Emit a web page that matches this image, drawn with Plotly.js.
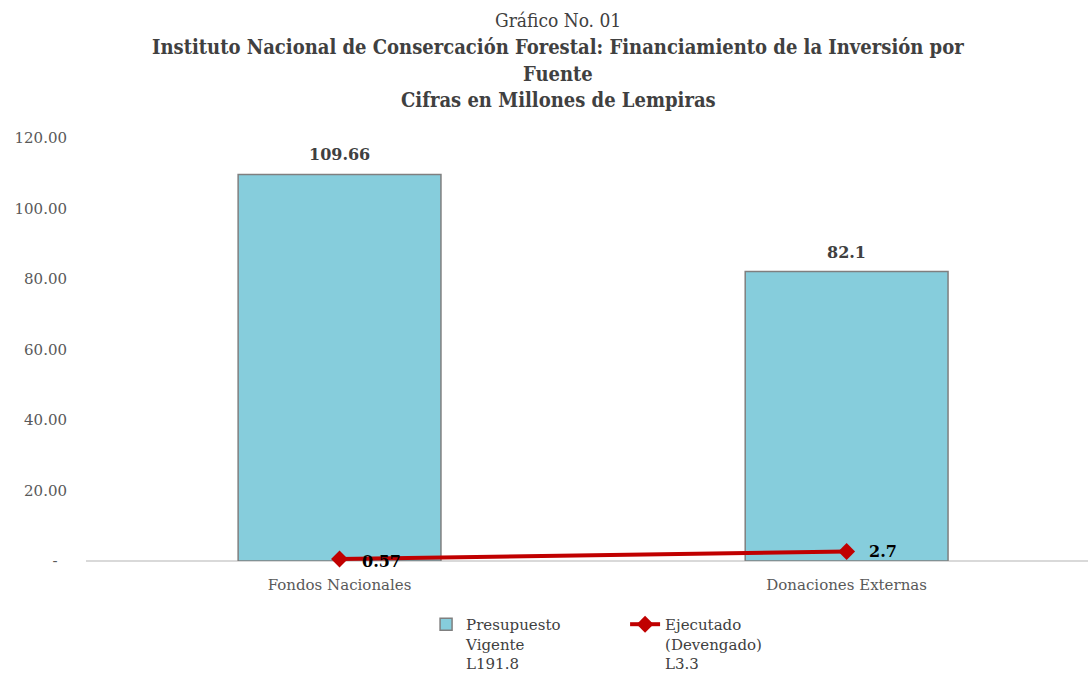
<!DOCTYPE html>
<html>
<head>
<meta charset="utf-8">
<script src="https://cdn.plot.ly/plotly-3.0.1.min.js"></script>
<style>html,body{margin:0;padding:0;background:#fff;}#chart{width:1088px;height:673px;}</style>
</head>
<body>
<div id="chart"></div>
<script>
const categories = ["Fondos Nacionales", "Donaciones Externas"];
const presupuesto = [109.66, 82.1];
const presupuestoLabels = ["109.66", "82.1"];
const ejecutado = [0.57, 2.7];
const ejecutadoLabels = ["0.57", "2.7"];
const yTickVals = [0, 20, 40, 60, 80, 100, 120];
const yTickText = ["-&nbsp;&nbsp;", "20.00", "40.00", "60.00", "80.00", "100.00", "120.00"];
const seriesNames = ["Presupuesto<br>Vigente<br>L191.8", "Ejecutado<br>(Devengado)<br>L3.3"];
const titleLines = [
  "Gráfico No. 01",
  "<b>Instituto Nacional de Consercación Forestal: Financiamiento de la Inversión por</b>",
  "<b>Fuente</b>",
  "<b>Cifras en Millones de Lempiras</b>"
];

const serif = "DejaVu Serif, Liberation Serif, serif";
const titleFont = "DejaVu Serif Condensed, DejaVu Serif, serif";

const traces = [
  {
    type: "bar",
    x: categories,
    y: presupuesto,
    name: seriesNames[0],
    marker: {color: "#86CDDC", line: {color: "#7f7f7f", width: 1.5}},
    hoverinfo: "none"
  },
  {
    type: "scatter",
    mode: "lines+markers",
    x: categories,
    y: ejecutado,
    name: seriesNames[1],
    cliponaxis: false,
    line: {color: "#C00000", width: 4},
    marker: {symbol: "diamond", size: 13, color: "#C00000"},
    hoverinfo: "none"
  }
];

const plotTop = 138, plotBottom = 561, plotLeft = 86, plotWidth = 1002;
const titleY = [20, 47, 74, 100];
const annotations = titleLines.map((t, i) => ({
  text: t,
  xref: "paper",
  yref: "paper",
  x: (558 - plotLeft) / plotWidth,
  y: (plotBottom - titleY[i]) / (plotBottom - plotTop),
  xanchor: "center",
  yanchor: "middle",
  showarrow: false,
  font: {family: titleFont, size: i === 0 ? 19 : 20, color: "#404040"}
}));

categories.forEach((c, i) => {
  annotations.push({
    text: "<b>" + presupuestoLabels[i] + "</b>",
    x: c, y: presupuesto[i], xref: "x", yref: "y",
    xanchor: "center", yanchor: "bottom", yshift: 8,
    showarrow: false,
    font: {family: serif, size: 16, color: "#404040"}
  });
  annotations.push({
    text: "<b>" + ejecutadoLabels[i] + "</b>",
    x: c, y: ejecutado[i], xref: "x", yref: "y",
    xanchor: "left", yanchor: "middle", xshift: 20, yshift: i === 0 ? -3 : 0,
    showarrow: false,
    font: {family: serif, size: 16, color: "#000000"}
  });
});

const layout = {
  width: 1088,
  height: 673,
  paper_bgcolor: "#ffffff",
  plot_bgcolor: "#ffffff",
  margin: {l: plotLeft, r: 0, t: plotTop, b: 673 - plotBottom, autoexpand: false},
  annotations: annotations,
  bargap: 0.6,
  showlegend: true,
  legend: {
    orientation: "h",
    x: 0.538,
    xanchor: "center",
    y: -0.111,
    yanchor: "top",
    valign: "top",
    entrywidth: 154,
    entrywidthmode: "pixels",
    font: {family: serif, size: 15, color: "#404040"},
    traceorder: "normal"
  },
  xaxis: {
    type: "category",
    range: [-0.5, 1.476],
    showgrid: false,
    showline: false,
    zeroline: false,
    ticks: "",
    ticklabelstandoff: 13,
    tickfont: {family: serif, size: 15, color: "#595959"},
    fixedrange: true
  },
  yaxis: {
    range: [0, 120],
    tickvals: yTickVals,
    ticktext: yTickText,
    showgrid: false,
    zeroline: true,
    zerolinecolor: "#d9d9d9",
    zerolinewidth: 1.5,
    showline: false,
    ticks: "",
    ticklabelstandoff: 18,
    tickfont: {family: serif, size: 15, color: "#595959"},
    automargin: false,
    fixedrange: true
  }
};

Plotly.newPlot("chart", traces, layout, {displayModeBar: false, staticPlot: true});
</script>
</body>
</html>
